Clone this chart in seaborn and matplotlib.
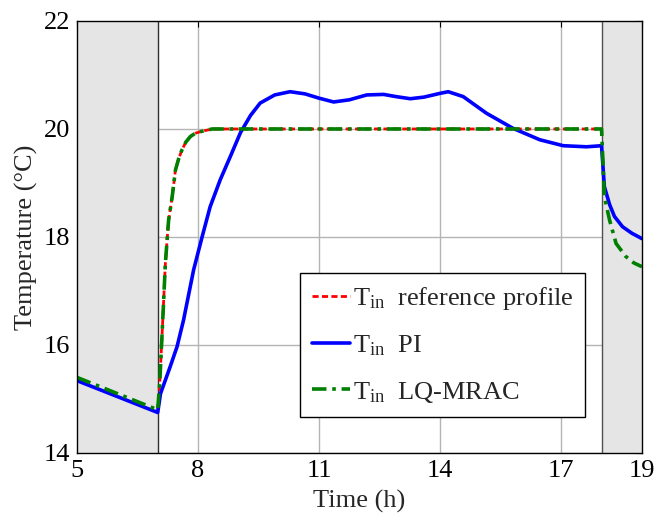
import matplotlib
matplotlib.use("Agg")
import matplotlib.pyplot as plt
import seaborn as sns
import pandas as pd

# Reference temperature profile (07:00 - 18:00)
t_ref = [7.0, 7.05, 7.11, 7.19, 7.27, 7.36, 7.44, 7.52, 7.6, 7.7, 7.81, 7.93, 8.06, 8.35, 12.0, 18.0]
T_ref = [14.8, 15.29, 16.22, 17.51, 18.31, 18.75, 19.24, 19.45, 19.61, 19.76, 19.86, 19.92, 19.95, 20.0, 20.0, 20.0]

# PI controller response
t_pi = [5.0, 7.0, 7.07, 7.31, 7.48, 7.64, 7.89, 8.1, 8.3, 8.55, 8.8, 9.05, 9.3, 9.54, 9.9, 10.28,
        10.65, 11.0, 11.36, 11.75, 12.18, 12.6, 12.9, 13.26, 13.6, 14.0, 14.2, 14.57, 15.15,
        15.81, 16.47, 17.05, 17.63, 18.0, 18.07, 18.2, 18.32, 18.52, 18.75, 19.0]
T_pi = [15.34, 14.75, 15.1, 15.6, 15.97, 16.46, 17.39, 18.0, 18.56, 19.06, 19.49, 19.93, 20.25, 20.48, 20.63, 20.69,
        20.65, 20.57, 20.5, 20.54, 20.63, 20.64, 20.6, 20.56, 20.59, 20.66, 20.69, 20.6, 20.29,
        20.01, 19.8, 19.69, 19.67, 19.69, 18.93, 18.6, 18.38, 18.19, 18.07, 17.97]

# LQ-MRAC controller response
t_mrac = [5.0, 7.0, 7.05, 7.11, 7.19, 7.27, 7.36, 7.44, 7.52, 7.6, 7.7, 7.81, 7.93, 8.06, 8.35, 12.0,
          18.0, 18.07, 18.2, 18.36, 18.6, 18.8, 19.0]
T_mrac = [15.4, 14.8, 15.29, 16.22, 17.51, 18.31, 18.75, 19.24, 19.45, 19.61, 19.76, 19.86, 19.92, 19.95, 20.0, 20.0,
          20.0, 18.75, 18.31, 17.88, 17.64, 17.52, 17.45]

x_ticks = [5, 8, 11, 14, 17, 19]
y_ticks = [14, 16, 18, 20, 22]
unoccupied = [(5, 7), (18, 19)]

sns.set_theme(style="white")
plt.rcParams["font.family"] = ["Liberation Serif", "DejaVu Serif"]
plt.rcParams["mathtext.fontset"] = "custom"
plt.rcParams["mathtext.rm"] = "Liberation Serif"
plt.rcParams["mathtext.it"] = "Liberation Serif:italic"

fig = plt.figure(figsize=(6.57, 5.24), dpi=100)
ax = fig.add_axes([0.1172, 0.1355, 0.8598, 0.8245])

ax.set_axisbelow(True)
ax.grid(True, color="#b4b4b4", linewidth=1.0)

for a, b in unoccupied:
    ax.axvspan(a, b, facecolor="#e5e5e5", edgecolor="none", zorder=1)
ax.axvline(7, color="#303030", linewidth=1.0, zorder=1.1)
ax.axvline(18, color="#505050", linewidth=1.0, zorder=1.1)

df_ref = pd.DataFrame({"t": t_ref, "T": T_ref})
df_pi = pd.DataFrame({"t": t_pi, "T": T_pi})
df_mrac = pd.DataFrame({"t": t_mrac, "T": T_mrac})

sns.lineplot(data=df_ref, x="t", y="T", ax=ax, sort=False, estimator=None, color="#ff0000",
             linewidth=2.0, linestyle=(0, (2.2, 1.2)), label=r"T$_{\rm in}$  reference profile", zorder=3)
sns.lineplot(data=df_pi, x="t", y="T", ax=ax, sort=False, estimator=None, color="#0000ff",
             linewidth=2.6, label=r"T$_{\rm in}$  PI", zorder=3)
sns.lineplot(data=df_mrac, x="t", y="T", ax=ax, sort=False, estimator=None, color="#008000",
             linewidth=2.6, linestyle=(0, (4.0, 1.6, 1.0, 1.6)), label=r"T$_{\rm in}$  LQ-MRAC", zorder=3)

ax.set_xlim(5, 19)
ax.set_ylim(14, 22)
ax.set_xticks(x_ticks)
ax.set_yticks(y_ticks)
ax.tick_params(direction="in", length=4, width=0.8, top=True, right=True,
               labelsize=19, colors="black", pad=5)
for s in ax.spines.values():
    s.set_color("black")
    s.set_linewidth(1.0)
    s.set_zorder(5)

ax.set_xlabel("Time (h)", fontsize=19, labelpad=6)
ax.set_ylabel("Temperature (°C)", fontsize=19, labelpad=4)

leg = ax.legend(loc="upper left", bbox_to_anchor=(0.395, 0.4167), borderaxespad=0,
                fontsize=19, frameon=True, fancybox=False, framealpha=1, edgecolor="black",
                handlelength=1.45, handletextpad=0.1, labelspacing=0.82, borderpad=0.45)
leg.get_frame().set_linewidth(1.0)

fig.savefig("out.png", dpi=100)
